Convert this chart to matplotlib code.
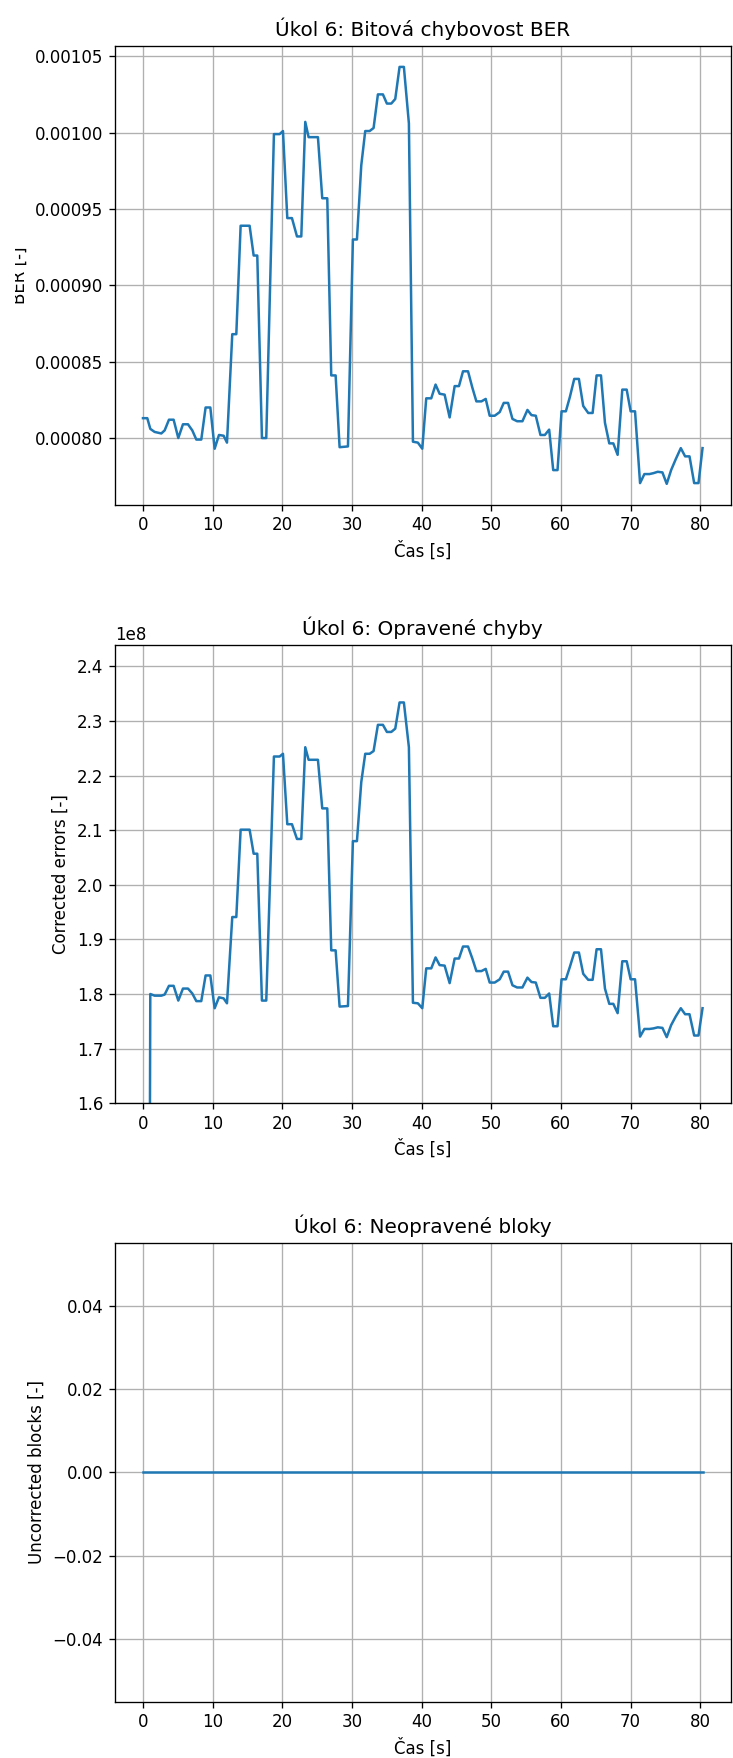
import matplotlib.pyplot as plt
from matplotlib.transforms import Bbox, TransformedBbox

# čas měření [s]
cas = [0.00, 0.62, 1.05, 1.67, 2.63, 3.11, 3.73, 4.40, 5.07, 5.74,
       6.46, 7.08, 7.66, 8.37, 8.99, 9.67, 10.29, 10.91, 11.58, 12.06,
       12.82, 13.40, 14.02, 15.31, 15.89, 16.41, 17.08, 17.70, 18.80, 19.62,
       20.10, 20.72, 21.39, 22.11, 22.73, 23.30, 23.78, 25.12, 25.74, 26.46,
       27.03, 27.66, 28.23, 29.43, 30.14, 30.72, 31.34, 31.91, 32.54, 33.11,
       33.73, 34.45, 35.02, 35.65, 36.22, 36.84, 37.46, 38.18, 38.76, 39.47,
       40.10, 40.67, 41.39, 42.01, 42.59, 43.31, 44.03, 44.75, 45.37, 45.95,
       46.67, 47.29, 47.87, 48.59, 49.21, 49.78, 50.50, 51.22, 51.80, 52.42,
       53.05, 53.72, 54.48, 55.20, 55.78, 56.40, 57.07, 57.70, 58.32, 58.90,
       59.52, 60.10, 60.72, 61.30, 61.92, 62.59, 63.21, 63.93, 64.56, 65.13,
       65.76, 66.33, 66.95, 67.53, 68.15, 68.82, 69.45, 70.02, 70.65, 71.37,
       71.99, 72.71, 73.29, 73.91, 74.58, 75.20, 75.83, 76.50, 77.22, 77.84,
       78.47, 79.14, 79.76, 80.34]

# bitová chybovost
ber = [0.000813, 0.000813, 0.000806, 0.000804, 0.000803, 0.000805, 0.000812, 0.000812, 0.000800, 0.000809,
       0.000809, 0.000805, 0.000799, 0.000799, 0.000820, 0.000820, 0.000793, 0.000802, 0.0008015, 0.000797,
       0.000868, 0.000868, 0.000939, 0.000939, 0.0009195, 0.0009195, 0.000800, 0.000800, 0.000999, 0.000999,
       0.001001, 0.000944, 0.000944, 0.000932, 0.000932, 0.001007, 0.000997, 0.000997, 0.000957, 0.000957,
       0.000841, 0.000841, 0.000794, 0.0007945, 0.000930, 0.000930, 0.0009785, 0.001001, 0.001001, 0.001003,
       0.001025, 0.001025, 0.001019, 0.001019, 0.001022, 0.001043, 0.001043, 0.001006, 0.0007976, 0.000797,
       0.000793, 0.000826, 0.000826, 0.000835, 0.000829, 0.0008284, 0.0008135, 0.000834, 0.000834, 0.0008437,
       0.0008437, 0.000833, 0.000824, 0.000824, 0.0008256, 0.0008146, 0.0008146, 0.000817, 0.000823, 0.000823,
       0.0008125, 0.000811, 0.000811, 0.0008184, 0.000815, 0.0008146, 0.000802, 0.000802, 0.0008055, 0.000779,
       0.000779, 0.0008175, 0.0008175, 0.000827, 0.0008387, 0.0008387, 0.000821, 0.0008164, 0.0008164, 0.000841,
       0.000841, 0.000810, 0.0007965, 0.0007965, 0.000789, 0.0008317, 0.0008317, 0.0008175, 0.0008175, 0.0007705,
       0.0007764, 0.0007764, 0.000777, 0.0007779, 0.0007775, 0.000770, 0.000779, 0.0007862, 0.0007934, 0.000788,
       0.000788, 0.0007705, 0.0007705, 0.0007934]

# opravené chyby (v 1e8)
opravene = [0.0, 0.0, 1.800, 1.797, 1.797, 1.799, 1.815, 1.815, 1.788, 1.810,
            1.810, 1.801, 1.787, 1.787, 1.834, 1.834, 1.774, 1.794, 1.792, 1.783,
            1.941, 1.941, 2.101, 2.101, 2.057, 2.057, 1.788, 1.788, 2.235, 2.235,
            2.240, 2.111, 2.111, 2.084, 2.084, 2.252, 2.229, 2.229, 2.140, 2.140,
            1.880, 1.880, 1.777, 1.778, 2.080, 2.080, 2.188, 2.240, 2.240, 2.245,
            2.293, 2.293, 2.280, 2.280, 2.286, 2.334, 2.334, 2.252, 1.784, 1.783,
            1.774, 1.847, 1.847, 1.867, 1.853, 1.852, 1.820, 1.865, 1.865, 1.887,
            1.887, 1.865, 1.842, 1.842, 1.846, 1.821, 1.821, 1.827, 1.841, 1.841,
            1.816, 1.812, 1.812, 1.830, 1.822, 1.821, 1.793, 1.793, 1.801, 1.741,
            1.741, 1.827, 1.827, 1.850, 1.876, 1.876, 1.837, 1.826, 1.826, 1.882,
            1.882, 1.810, 1.782, 1.782, 1.765, 1.860, 1.860, 1.827, 1.827, 1.722,
            1.736, 1.736, 1.737, 1.739, 1.738, 1.721, 1.743, 1.759, 1.774, 1.763,
            1.763, 1.724, 1.724, 1.774]
opravene = [v * 1e8 for v in opravene]

# neopravené bloky
neopravene = [0] * len(cas)


def graf(ax, x, y, titulek, popisek):
    ax.plot(x, y)
    ax.set_title('Úkol 6: ' + titulek)
    ax.set_xlabel('Čas [s]')
    ax.set_ylabel(popisek)
    ax.grid(True)


fig, axs = plt.subplots(3, 1, figsize=(733 / 120, 1758 / 120), dpi=120)
fig.subplots_adjust(left=0.1569, right=0.9966, top=0.9738, bottom=0.0320, hspace=0.305)

graf(axs[0], cas, ber, 'Bitová chybovost BER', 'BER [-]')
graf(axs[1], cas, opravene, 'Opravené chyby', 'Corrected errors [-]')
axs[1].set_ylim(1.6e8, 2.44e8)
graf(axs[2], cas, neopravene, 'Neopravené bloky', 'Uncorrected blocks [-]')

# popisek BER se nevejde celý
popisek = axs[0].yaxis.label
popisek.set_clip_box(TransformedBbox(Bbox([[15 / 733, 0], [1, 1]]), fig.transFigure))
popisek.set_clip_on(True)

fig.savefig('out.png', dpi=120)
